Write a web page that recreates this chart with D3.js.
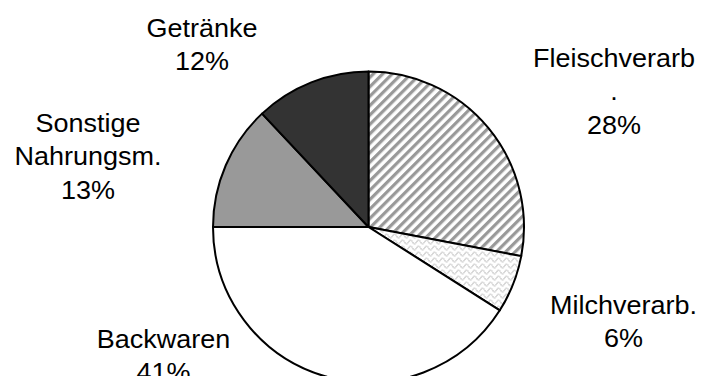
<!DOCTYPE html>
<html>
<head>
<meta charset="utf-8">
<script src="https://cdn.jsdelivr.net/npm/d3@7"></script>
<style>
  html, body { margin: 0; padding: 0; background: #fff; }
  svg { display: block; }
  text { font-family: "Liberation Sans", Arial, sans-serif; fill: #000; }
</style>
</head>
<body>
<svg id="chart" width="701" height="376"></svg>
<script>
// Umsatzanteile nach Branche (clockwise from 12 o'clock)
const categories = ["Fleischverarb\n.", "Milchverarb.", "Backwaren", "Sonstige\nNahrungsm.", "Getränke"];
const shares = [28, 6, 41, 13, 12];
const fills = ["url(#stripes)", "url(#waves)", "#ffffff", "#999999", "#333333"];

// label placement: centre x and first baseline y for each slice's label block
const labelAnchors = [[614, 67], [623.5, 314], [163.5, 348], [88, 132], [202, 37]];
const lineStep = 33.5;

const svg = d3.select("#chart");
const defs = svg.append("defs");

// diagonal grey stripes
const stripes = defs.append("pattern")
  .attr("id", "stripes")
  .attr("patternUnits", "userSpaceOnUse")
  .attr("width", 6.65).attr("height", 6.65)
  .attr("patternTransform", "rotate(45)");
stripes.append("rect").attr("width", 6.65).attr("height", 6.65).attr("fill", "#fff");
stripes.append("rect").attr("x", 0).attr("width", 3.2).attr("height", 6.65).attr("fill", "#999999");

// light dotted waves
const waves = defs.append("pattern")
  .attr("id", "waves")
  .attr("patternUnits", "userSpaceOnUse")
  .attr("width", 8).attr("height", 6);
waves.append("rect").attr("width", 8).attr("height", 6).attr("fill", "#fff");
waves.append("path")
  .attr("d", "M0,3 C1.3,0.5 2.7,0.5 4,3 C5.3,5.5 6.7,5.5 8,3")
  .attr("fill", "none")
  .attr("stroke", "#a6a6a6")
  .attr("stroke-width", 1.1)
  .attr("stroke-dasharray", "1.2,0.8");

const cx = 368.5, cy = 227, radius = 155.5;

const pie = d3.pie().sort(null).value(d => d)(shares);
const arc = d3.arc().innerRadius(0).outerRadius(radius);

const g = svg.append("g").attr("transform", `translate(${cx},${cy})`);
g.selectAll("path.slice")
  .data(pie)
  .join("path")
  .attr("class", "slice")
  .attr("d", arc)
  .attr("fill", (d, i) => fills[i])
  .attr("stroke", "#000")
  .attr("stroke-width", 2)
  .attr("stroke-linejoin", "round");

// labels: category name lines followed by the percentage
const labels = svg.append("g");
categories.forEach((name, i) => {
  const lines = name.split("\n").concat([`${shares[i]}%`]);
  const [x, y] = labelAnchors[i];
  const t = labels.append("g").attr("transform", `translate(${x},0) scale(1.08,1)`);
  lines.forEach((ln, k) => {
    t.append("text")
      .attr("x", 0)
      .attr("y", y + k * lineStep)
      .attr("text-anchor", "middle")
      .attr("font-size", 25)
      .text(ln);
  });
});
</script>
</body>
</html>
